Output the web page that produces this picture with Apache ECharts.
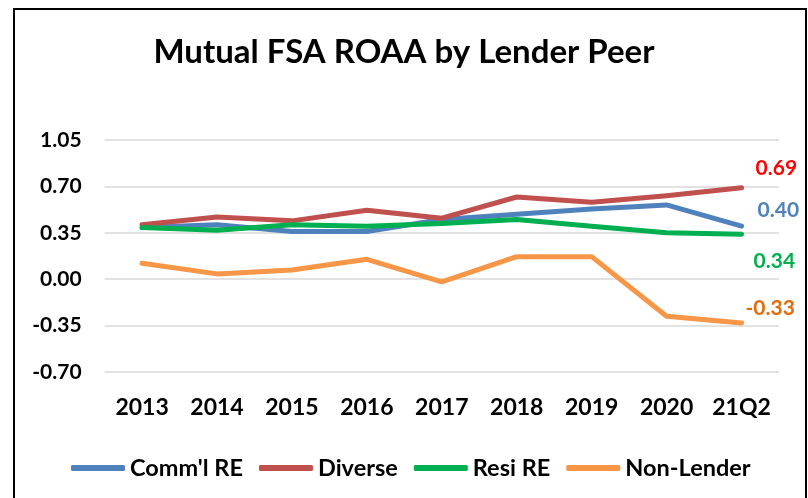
<!DOCTYPE html>
<html>
<head>
<meta charset="utf-8">
<script src="https://cdn.jsdelivr.net/npm/echarts@6/dist/echarts.min.js"></script>
<style>
    html, body { margin: 0; padding: 0; background: #fff; }
    #chart { width: 808px; height: 498px; }
</style>
</head>
<body>
<div id="chart"></div>
<script>
// categories and values
var years = ['2013', '2014', '2015', '2016', '2017', '2018', '2019', '2020', '21Q2'];
var commRE = [0.39, 0.41, 0.36, 0.36, 0.45, 0.49, 0.53, 0.56, 0.40];
var diverse = [0.41, 0.47, 0.44, 0.52, 0.46, 0.62, 0.58, 0.63, 0.69];
var resiRE = [0.39, 0.37, 0.41, 0.40, 0.42, 0.45, 0.40, 0.35, 0.34];
var nonLender = [0.12, 0.04, 0.07, 0.15, -0.02, 0.17, 0.17, -0.28, -0.33];

var font = 'Lato, "Liberation Sans", sans-serif';

var mkSeries = function(name, values, color, labelColor, offset) {
    return {
        name: name,
        type: 'line',
        data: values,
        symbol: 'none',
        lineStyle: { color: color, width: 5, cap: 'round', join: 'round' },
        itemStyle: { color: color },
        // value of the last point, placed beside the line end
        endLabel: {
            show: true,
            distance: 0,
            offset: offset,
            color: labelColor,
            fontFamily: font,
            fontWeight: 'bold',
            fontSize: 21,
            formatter: function(p) { return p.value.toFixed(2); }
        }
    };
};

var myChart = echarts.init(document.getElementById('chart'));
var option = {
    backgroundColor: '#fff',
    animation: false,
    title: {
        text: 'Mutual FSA ROAA by Lender Peer',
        left: 'center',
        top: 31,
        textStyle: { fontFamily: font, fontWeight: 'bold', fontSize: 33, color: '#000' }
    },
    graphic: [{
        type: 'rect',
        shape: { x: 14, y: 9, width: 792, height: 520 },
        style: { fill: null, stroke: '#000', lineWidth: 2 },
        silent: true
    }],
    legend: {
        left: 66,
        top: 451,
        icon: 'roundRect',
        itemWidth: 54,
        itemHeight: 6,
        itemGap: 16,
        textStyle: { fontFamily: font, fontWeight: 'bold', fontSize: 23.5, color: '#000' },
        data: ["Comm'l RE", 'Diverse', 'Resi RE', 'Non-Lender']
    },
    grid: { left: 104.6, right: 29, top: 140, bottom: 126 },
    xAxis: {
        type: 'category',
        data: years,
        boundaryGap: true,
        axisLine: { show: false },
        axisTick: { show: false },
        axisLabel: { interval: 0, margin: 24, fontFamily: font, fontWeight: 'bold', fontSize: 23, color: '#000' }
    },
    yAxis: {
        type: 'value',
        min: -0.70,
        max: 1.05,
        interval: 0.35,
        axisLine: { show: false },
        axisTick: { show: false },
        splitLine: { lineStyle: { color: '#D9D9D9', width: 1.5 } },
        axisLabel: {
            margin: 23,
            fontFamily: font, fontWeight: 'bold', fontSize: 21, color: '#000',
            formatter: function(v) { return v.toFixed(2); }
        }
    },
    series: [
        mkSeries("Comm'l RE", commRE, '#4F81BD', '#4F81BD', [16, -16]),
        mkSeries('Diverse', diverse, '#C0504D', '#FF0000', [14, -19]),
        mkSeries('Resi RE', resiRE, '#00B050', '#00B050', [12, 27]),
        mkSeries('Non-Lender', nonLender, '#F79646', '#E46C0A', [4, -15])
    ]
};
myChart.setOption(option);
</script>
</body>
</html>
